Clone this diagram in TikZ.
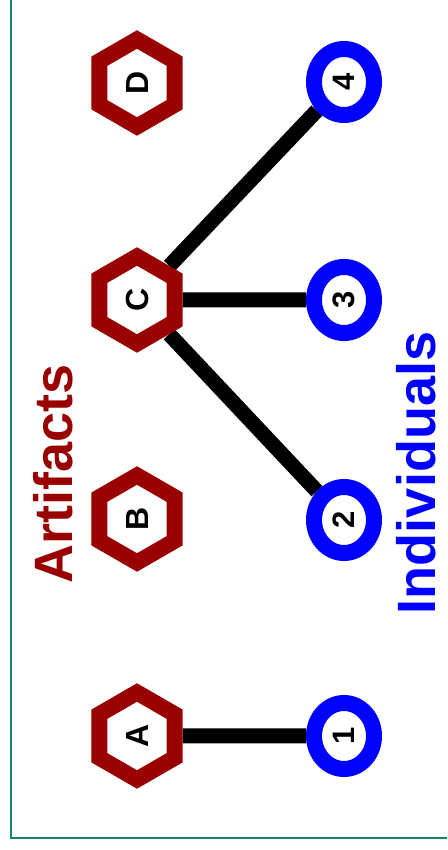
\documentclass[tikz,border=0pt]{standalone}
\usepackage{fontspec}
\setmainfont{Liberation Sans}
\usetikzlibrary{shapes.geometric,backgrounds}
\definecolor{artred}{RGB}{153,0,0}
\definecolor{indblue}{RGB}{0,0,255}
\definecolor{framegreen}{RGB}{20,135,105}
\tikzset{
  artifact/.style={regular polygon, regular polygon sides=6, minimum size=43.5pt,
    inner sep=0pt, draw=artred, line width=8pt, fill=white, rotate=90,
    font=\fontsize{16}{18}\selectfont\bfseries},
  individual/.style={ellipse, minimum width=33pt, minimum height=30pt,
    inner sep=0pt, draw=indblue, line width=8pt, fill=white, rotate=90,
    font=\fontsize{15.5}{18}\selectfont\bfseries},
  link/.style={line width=7.5pt},
  side label/.style={rotate=90, font=\fontsize{27}{32}\selectfont\bfseries}
}

\begin{document}
\begin{tikzpicture}[x=0.5pt, y=0.5pt]
\newcommand{\artx}{137}
\newcommand{\indx}{344}
\useasboundingbox (0, 0) rectangle (447, 850);
% open frame, only left and bottom sides show
\draw[framegreen, line width=1.2pt, line join=miter] (11, 850) -- (11, 12) -- (447, 12);

% artifacts on the left, individuals on the right
\node[artifact] (A) at (\artx, 114) {A};
\node[artifact] (B) at (\artx, 331) {B};
\node[artifact] (C) at (\artx, 550) {C};
\node[artifact] (D) at (\artx, 767) {D};
\node[individual] (i1) at (\indx, 114) {1};
\node[individual] (i2) at (\indx, 330) {2};
\node[individual] (i3) at (\indx, 550) {3};
\node[individual] (i4) at (\indx, 768) {4};

\begin{scope}[on background layer]
  \draw[link] (A) -- (i1);
  \draw[link] (C) -- (i2);
  \draw[link] (C) -- (i3);
  \draw[link] (C) -- (i4);
\end{scope}

\node[side label, text=artred] (artifacts) at (53, 376) {Artifacts};
\node[side label, text=indblue] (individuals) at (416, 377) {Individuals};
\end{tikzpicture}
\end{document}
